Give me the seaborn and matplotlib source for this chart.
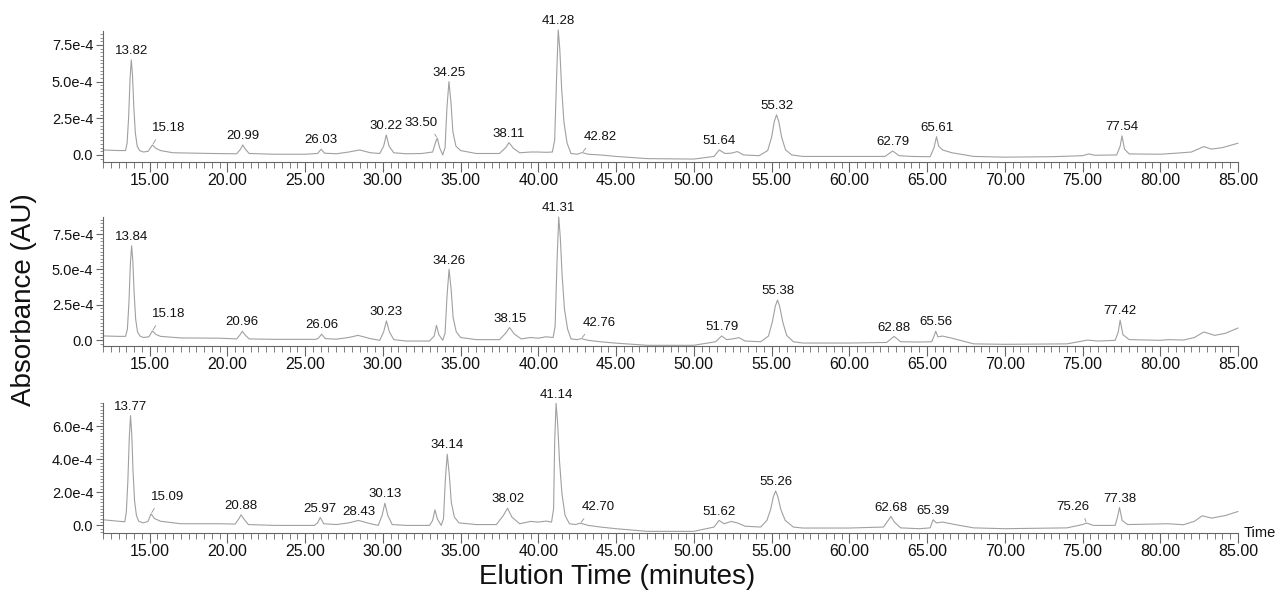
import numpy as np
import pandas as pd
import matplotlib
matplotlib.use("Agg")
import matplotlib.pyplot as plt
import seaborn as sns
from matplotlib.ticker import MultipleLocator, FuncFormatter, FixedLocator

# ---------------- data (absorbance in units of 1e-4 AU) ----------------
t_a = [12.0, 13.0, 13.45, 13.55, 13.65, 13.74, 13.82, 13.9, 13.98, 14.08, 14.2, 14.35, 14.6, 14.9, 15.18, 15.4, 15.7, 16.5, 18.0, 19.0,
       20.6, 20.85, 20.99, 21.15, 21.4, 23.0, 25.0, 25.8, 26.03, 26.25, 27.0, 27.8, 28.5, 29.2, 29.8, 30.05, 30.22,
       30.4, 30.7, 31.5, 32.5, 33.2, 33.4, 33.5, 33.65, 33.85, 34.0, 34.12, 34.25, 34.38, 34.5, 34.7, 35.0, 36.0, 37.5,
       37.9, 38.11, 38.4, 38.8, 39.5, 40.0, 40.5, 40.9, 41.05, 41.18, 41.28, 41.38, 41.5, 41.65, 41.85, 42.1, 42.5, 42.82,
       43.2, 44.0, 45.0, 47.0, 50.0, 51.3, 51.64, 52.0, 52.4, 52.8, 53.2, 54.2, 54.75, 55.0, 55.18, 55.32, 55.46, 55.65, 55.9,
       56.3, 57.0, 60.0, 62.3, 62.79, 63.2, 64.0, 65.2, 65.45, 65.61, 65.75, 66.0, 66.6, 68.0, 70.0, 73.0, 75.0,
       75.4, 75.8, 77.2, 77.42, 77.54, 77.7, 78.0, 80.0, 81.0, 82.0, 82.8, 83.3, 84.0, 85.0]
a_a = [0.34, 0.30, 0.30, 0.8, 2.6, 5.2, 6.48, 5.4, 3.3, 1.5, 0.6, 0.3, 0.2, 0.25, 0.68, 0.45, 0.3, 0.15, 0.12, 0.1,
       0.08, 0.4, 0.68, 0.4, 0.1, 0.05, 0.05, 0.1, 0.39, 0.12, 0.08, 0.2, 0.34, 0.15, 0.1, 0.6, 1.36,
       0.6, 0.15, 0.08, 0.1, 0.2, 0.9, 1.14, 0.5, 0.0, 0.5, 3.2, 5.0, 3.6, 1.6, 0.6, 0.3, 0.1, 0.1,
       0.5, 0.84, 0.45, 0.15, 0.2, 0.2, 0.18, 0.2, 1.0, 5.5, 8.52, 7.2, 4.5, 2.2, 0.8, 0.1, 0.05, 0.16,
       0.05, 0.0, -0.1, -0.25, -0.28, -0.1, 0.34, 0.1, 0.12, 0.23, 0.0, -0.05, 0.3, 1.2, 2.3, 2.73, 2.3, 1.2, 0.35,
       0.0, -0.1, -0.1, -0.1, 0.27, -0.05, -0.1, -0.12, 0.5, 1.25, 0.6, 0.34, 0.15, -0.1, -0.15, -0.12, -0.05,
       0.07, -0.02, 0.0, 0.6, 1.3, 0.4, 0.07, 0.05, 0.12, 0.2, 0.57, 0.4, 0.5, 0.8]

t_b = [12.0, 13.0, 13.45, 13.57, 13.67, 13.76, 13.84, 13.92, 14.0, 14.1, 14.22, 14.38, 14.6, 14.95, 15.18, 15.4, 15.7, 17.0, 19.5,
       20.6, 20.82, 20.96, 21.12, 21.4, 23.0, 25.7, 25.85, 26.06, 26.3, 27.0, 27.8, 28.4, 29.2, 29.8, 30.05, 30.23,
       30.42, 30.7, 31.5, 33.0, 33.3, 33.45, 33.6, 33.85, 34.0, 34.13, 34.26, 34.39, 34.52, 34.72, 35.0, 36.0, 37.5,
       37.9, 38.15, 38.45, 38.9, 39.5, 40.0, 40.5, 40.95, 41.08, 41.2, 41.31, 41.41, 41.53, 41.68, 41.88, 42.1, 42.5, 42.76,
       43.2, 44.0, 45.0, 47.0, 50.0, 51.4, 51.79, 52.1, 52.5, 52.9, 53.3, 54.3, 54.8, 55.05, 55.24, 55.38, 55.52, 55.72, 55.97,
       56.4, 57.0, 60.0, 62.4, 62.88, 63.3, 64.5, 65.3, 65.45, 65.56, 65.7, 66.0, 66.6, 68.0, 70.0, 74.0, 75.0,
       75.3, 76.0, 77.1, 77.3, 77.42, 77.6, 78.0, 80.0, 80.5, 81.5, 82.2, 82.8, 83.5, 84.2, 85.0]
a_b = [0.31, 0.28, 0.28, 0.8, 2.7, 5.4, 6.67, 5.6, 3.4, 1.5, 0.6, 0.3, 0.2, 0.25, 0.66, 0.42, 0.28, 0.17, 0.15,
       0.1, 0.4, 0.64, 0.4, 0.1, 0.07, 0.07, 0.15, 0.43, 0.12, 0.08, 0.2, 0.35, 0.12, 0.0, 0.6, 1.37,
       0.6, 0.05, -0.05, -0.05, 0.3, 1.06, 0.4, 0.0, 0.5, 3.2, 5.01, 3.6, 1.6, 0.6, 0.2, 0.05, 0.05,
       0.5, 0.9, 0.45, 0.1, 0.2, 0.15, 0.25, 0.2, 1.0, 5.5, 8.7, 7.3, 4.6, 2.2, 0.8, 0.1, 0.05, 0.12,
       0.0, -0.1, -0.2, -0.35, -0.35, -0.1, 0.31, 0.05, 0.1, 0.19, -0.05, -0.1, 0.3, 1.3, 2.4, 2.84, 2.4, 1.3, 0.35,
       -0.1, -0.19, -0.19, -0.15, 0.28, -0.1, -0.12, -0.1, 0.3, 0.64, 0.25, 0.3, 0.15, -0.25, -0.28, -0.25, -0.05,
       0.02, -0.05, 0.0, 0.6, 1.42, 0.4, 0.05, 0.0, 0.05, 0.02, 0.2, 0.59, 0.35, 0.5, 0.87]

t_c = [12.0, 13.0, 13.4, 13.5, 13.6, 13.69, 13.77, 13.85, 13.93, 14.03, 14.15, 14.3, 14.6, 14.9, 15.09, 15.3, 15.7, 17.0, 19.5,
       20.5, 20.74, 20.88, 21.05, 21.35, 23.0, 25.6, 25.8, 25.97, 26.2, 27.0, 27.8, 28.43, 29.2, 29.7, 29.95, 30.13,
       30.32, 30.6, 31.5, 33.0, 33.2, 33.35, 33.5, 33.75, 33.9, 34.02, 34.14, 34.27, 34.4, 34.6, 34.9, 36.0, 37.3,
       37.75, 38.02, 38.3, 38.8, 39.5, 40.0, 40.5, 40.85, 40.98, 41.05, 41.14, 41.24, 41.36, 41.52, 41.72, 42.0, 42.4, 42.70,
       43.2, 44.0, 45.0, 47.0, 50.0, 51.3, 51.62, 51.95, 52.4, 52.8, 53.3, 54.3, 54.7, 54.95, 55.12, 55.26, 55.4, 55.6, 55.88,
       56.4, 57.0, 60.0, 62.2, 62.5, 62.68, 62.9, 63.3, 64.5, 65.2, 65.39, 65.6, 66.0, 66.8, 68.0, 70.0, 74.0,
       75.0, 75.26, 75.7, 77.1, 77.25, 77.38, 77.55, 77.9, 80.5, 81.5, 82.2, 82.7, 83.3, 84.2, 85.0]
a_c = [0.34, 0.25, 0.22, 0.8, 2.7, 5.3, 6.64, 5.5, 3.3, 1.5, 0.6, 0.25, 0.15, 0.25, 0.7, 0.42, 0.25, 0.1, 0.1,
       0.08, 0.4, 0.64, 0.4, 0.05, 0.0, 0.0, 0.15, 0.48, 0.1, 0.05, 0.15, 0.3, 0.1, 0.0, 0.6, 1.34,
       0.6, 0.05, 0.0, 0.0, 0.3, 0.94, 0.4, 0.0, 0.4, 2.8, 4.3, 3.1, 1.4, 0.5, 0.15, 0.05, 0.05,
       0.6, 1.04, 0.5, 0.1, 0.24, 0.2, 0.26, 0.2, 1.0, 5.0, 7.38, 6.2, 3.9, 1.9, 0.6, 0.1, 0.05, 0.14,
       0.0, -0.1, -0.2, -0.36, -0.36, -0.1, 0.3, 0.1, 0.24, 0.15, -0.05, -0.1, 0.3, 1.0, 1.75, 2.08, 1.75, 0.95, 0.3,
       -0.1, -0.16, -0.16, -0.1, 0.3, 0.54, 0.2, -0.15, -0.2, -0.15, 0.34, 0.15, 0.2, 0.05, -0.15, -0.2, -0.15,
       0.05, 0.14, 0.0, 0.0, 0.5, 1.08, 0.3, 0.05, 0.1, 0.04, 0.25, 0.58, 0.44, 0.6, 0.84]

labels_a = ["13.82", "15.18", "20.99", "26.03", "30.22", "33.50", "34.25", "38.11", "41.28", "42.82",
            "51.64", "55.32", "62.79", "65.61", "77.54"]
labels_b = ["13.84", "15.18", "20.96", "26.06", "30.23", "34.26", "38.15", "41.31", "42.76",
            "51.79", "55.38", "62.88", "65.56", "77.42"]
labels_c = ["13.77", "15.09", "20.88", "25.97", "28.43", "30.13", "34.14", "38.02", "41.14", "42.70",
            "51.62", "55.26", "62.68", "65.39", "75.26", "77.38"]

x_ticks = [15, 20, 25, 30, 35, 40, 45, 50, 55, 60, 65, 70, 75, 80, 85]

# ---------------- layout ----------------
W, H = 1281, 594
sns.set_style("white")
plt.rcParams['font.family'] = ['Liberation Sans', 'DejaVu Sans']
fig = plt.figure(figsize=(W / 100, H / 100), dpi=100)

panels = [
    (t_a, a_a, labels_a, (-0.48e-4, 8.45e-4), 2.5e-4, 0.25e-4, (31, 162)),
    (t_b, a_b, labels_b, (-0.40e-4, 8.70e-4), 2.5e-4, 0.25e-4, (217, 346)),
    (t_c, a_c, labels_c, (-0.46e-4, 7.40e-4), 2.0e-4, 0.20e-4, (403, 533)),
]

# leader-line labels: text -> (dx points, dy points, relpos)
leaders = {
    "15.18": (12, 8, (0.2, 0)),
    "15.09": (12, 8, (0.2, 0)),
    "33.50": (-11.5, 7, (0.8, 0)),
    "42.82": (13, 7, (0.2, 0)),
    "42.76": (13, 7, (0.2, 0)),
    "42.70": (13, 7, (0.2, 0)),
    "75.26": (-10, 7.5, (0.8, 0)),
}

def yfmt(v, pos):
    if abs(v) < 1e-12:
        return "0.0"
    return f"{v * 1e4:.1f}e-4"

left, right = 103 / W, 1238 / W
spine_col = "#666666"
for (tt, aa, labs, ylim, ymaj, ymin_, (top_px, bot_px)) in panels:
    ax = fig.add_axes([left, 1 - bot_px / H, right - left, (bot_px - top_px) / H])
    df = pd.DataFrame({"time": tt, "abs": np.array(aa) * 1e-4})
    sns.lineplot(data=df, x="time", y="abs", ax=ax, color="#a0a0a0", linewidth=0.8,
                 estimator=None, sort=False)
    for ln in ax.lines:
        ln.set_clip_on(False)
    ax.set_xlim(12, 85)
    ax.set_xlabel("")
    ax.set_ylabel("")
    ax.xaxis.set_major_locator(FixedLocator(x_ticks))
    ax.xaxis.set_major_formatter(FuncFormatter(lambda v, p: f"{v:.2f}"))
    ax.xaxis.set_minor_locator(MultipleLocator(0.5))
    yt = [v * ymaj for v in range(0, 5) if v * ymaj <= ylim[1]]
    ax.yaxis.set_major_locator(FixedLocator(yt))
    ax.yaxis.set_minor_locator(MultipleLocator(ymin_))
    ax.yaxis.set_major_formatter(FuncFormatter(yfmt))
    ax.set_ylim(*ylim)
    ax.tick_params(which="both", bottom=True, left=True, top=False, right=False, direction="out")
    ax.tick_params(axis="x", which="major", length=7, width=0.8,
                   color=spine_col, labelsize=11.5, labelcolor="#111111", pad=1)
    ax.tick_params(axis="x", which="minor", length=4, width=0.6, color=spine_col)
    ax.tick_params(axis="y", which="major", length=5, width=0.8,
                   color=spine_col, labelsize=10.5, labelcolor="#111111", pad=2)
    ax.tick_params(axis="y", which="minor", length=2.5, width=0.5, color=spine_col)
    for s in ("top", "right"):
        ax.spines[s].set_visible(False)
    for s in ("left", "bottom"):
        ax.spines[s].set_color(spine_col)
        ax.spines[s].set_linewidth(0.8)
    ax.patch.set_alpha(0)

    t_arr = np.array(tt)
    a_arr = np.array(aa) * 1e-4
    for lab in labs:
        xp = float(lab)
        yp = float(np.interp(xp, t_arr, a_arr))
        if lab in leaders:
            dx, dy, rp = leaders[lab]
            ax.annotate(lab, xy=(xp, yp), xytext=(dx, dy), textcoords="offset points",
                        ha="center", va="bottom", fontsize=9.5, color="#111111",
                        annotation_clip=False,
                        arrowprops=dict(arrowstyle="-", color="#909090", lw=0.6,
                                        relpos=rp, shrinkA=2, shrinkB=1))
        else:
            ax.annotate(lab, xy=(xp, yp), xytext=(0, 2), textcoords="offset points",
                        ha="center", va="bottom", fontsize=9.5, color="#111111",
                        annotation_clip=False)

fig.text(0.019, 0.495, "Absorbance (AU)", rotation=90, ha="center", va="center", fontsize=20, color="#111111")
fig.text(0.482, 0.028, "Elution Time (minutes)", ha="center", va="center", fontsize=20, color="#111111")
fig.text(1244 / W, 1 - 533 / H, "Time", ha="left", va="center", fontsize=10.5, color="#111111")

fig.savefig("out.png", dpi=100)
